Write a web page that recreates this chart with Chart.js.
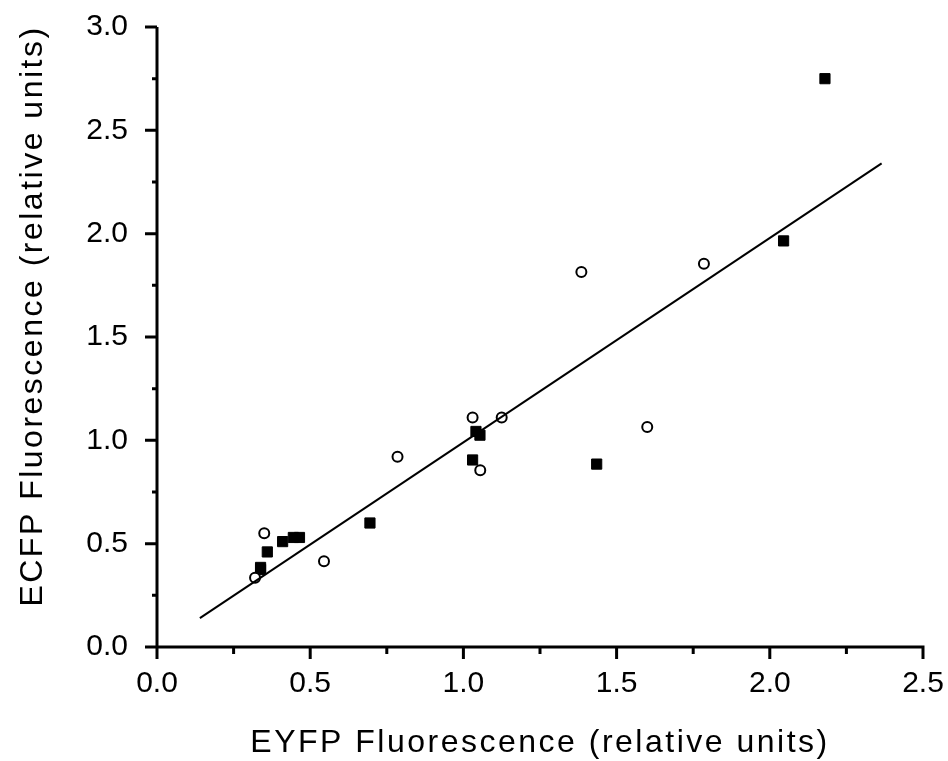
<!DOCTYPE html>
<html>
<head>
<meta charset="utf-8">
<title>ECFP vs EYFP fluorescence</title>
<script src="https://cdn.jsdelivr.net/npm/chart.js@4.4.1/dist/chart.umd.min.js"></script>
<style>
  html, body { margin: 0; padding: 0; background: #fff; }
  canvas { display: block; }
</style>
</head>
<body>
<canvas id="fluoChart" width="948" height="761"></canvas>
<script>
// filled squares
const squaresX = [0.338, 0.338, 0.36, 0.41, 0.445, 0.465, 0.695, 1.03, 1.041, 1.054, 1.435, 2.045, 2.18];
const squaresY = [0.385, 0.375, 0.46, 0.51, 0.53, 0.53, 0.60, 0.905, 1.043, 1.025, 0.885, 1.965, 2.75];

// open circles
const circlesX = [0.32, 0.35, 0.545, 0.785, 1.03, 1.055, 1.125, 1.385, 1.6, 1.785];
const circlesY = [0.335, 0.55, 0.415, 0.92, 1.11, 0.855, 1.11, 1.815, 1.065, 1.855];

// linear fit, drawn between its two end points
const fitX = [0.14, 2.365];
const fitY = [0.14, 2.34];

const xTicks = ['0.0', '0.5', '1.0', '1.5', '2.0', '2.5'];
const yTicks = ['0.0', '0.5', '1.0', '1.5', '2.0', '2.5', '3.0'];

const xTitle = 'EYFP Fluorescence (relative units)';
const yTitle = 'ECFP Fluorescence (relative units)';

const FONT = '"Liberation Sans", Arial, sans-serif';
const toPoints = (xs, ys) => xs.map((x, i) => ({ x: x, y: ys[i] }));

// label only every other tick (0.5 steps), minor ticks stay blank
const tickLabel = (labels) => (value) => {
  const idx = Math.round(value * 2);
  return Math.abs(value * 2 - idx) < 1e-6 ? labels[idx] : '';
};

// axis lines with long major and short minor tick marks
const axesPlugin = {
  id: 'axesPlugin',
  beforeDatasetsDraw(chart) {
    const { ctx, scales: { x, y } } = chart;
    const x0 = x.getPixelForValue(0);
    const y0 = y.getPixelForValue(0);
    ctx.save();
    ctx.strokeStyle = '#000';
    ctx.lineWidth = 3;
    ctx.lineCap = 'butt';
    ctx.beginPath();
    ctx.moveTo(x0, y.getPixelForValue(3));
    ctx.lineTo(x0, y0);
    ctx.moveTo(x0 - 1.5, y0);
    ctx.lineTo(x.getPixelForValue(2.5) + 1.5, y0);
    x.ticks.forEach((t) => {
      const px = x.getPixelForValue(t.value);
      const major = Math.abs(t.value * 2 - Math.round(t.value * 2)) < 1e-6;
      ctx.moveTo(px, y0);
      ctx.lineTo(px, y0 + (major ? 12 : 7));
    });
    y.ticks.forEach((t) => {
      const py = y.getPixelForValue(t.value);
      const major = Math.abs(t.value * 2 - Math.round(t.value * 2)) < 1e-6;
      ctx.moveTo(x0, py);
      ctx.lineTo(x0 - (major ? 12 : 5), py);
    });
    ctx.stroke();
    ctx.restore();
  },
  afterDraw(chart) {
    const { ctx } = chart;
    ctx.save();
    ctx.fillStyle = '#000';
    ctx.font = '32px ' + FONT;
    ctx.letterSpacing = '2.5px';
    ctx.textAlign = 'center';
    ctx.textBaseline = 'alphabetic';
    ctx.fillText(xTitle, 540, 752);
    ctx.translate(42, 316);
    ctx.rotate(-Math.PI / 2);
    ctx.fillText(yTitle, 0, 0);
    ctx.restore();
  }
};

new Chart(document.getElementById('fluoChart'), {
  type: 'scatter',
  data: {
    datasets: [
      {
        label: 'fit',
        data: toPoints(fitX, fitY),
        showLine: true,
        borderColor: '#000',
        borderWidth: 2,
        pointRadius: 0,
        fill: false
      },
      {
        label: 'circles',
        data: toPoints(circlesX, circlesY),
        pointStyle: 'circle',
        pointRadius: 5,
        pointBorderWidth: 2,
        pointBackgroundColor: '#fff',
        pointBorderColor: '#000'
      },
      {
        label: 'squares',
        data: toPoints(squaresX, squaresY),
        pointStyle: 'rect',
        pointRadius: 7.2,
        pointBorderWidth: 1,
        pointBackgroundColor: '#000',
        pointBorderColor: '#000'
      }
    ]
  },
  options: {
    responsive: false,
    animation: false,
    clip: false,
    layout: { padding: { top: 27, right: 25, left: 0, bottom: 0 } },
    plugins: {
      legend: { display: false },
      tooltip: { enabled: false }
    },
    scales: {
      x: {
        type: 'linear',
        min: 0,
        max: 2.5,
        afterFit: (scale) => {
          scale.height = 114;
          scale.paddingLeft = 0;
          scale.paddingRight = 0;
        },
        border: { display: false },
        grid: { drawOnChartArea: false, drawTicks: true, tickLength: 11, color: 'rgba(0,0,0,0)' },
        ticks: {
          stepSize: 0.25,
          autoSkip: false,
          maxRotation: 0,
          padding: 8,
          color: '#000',
          font: { family: FONT, size: 30 },
          callback: tickLabel(xTicks)
        }
      },
      y: {
        type: 'linear',
        min: 0,
        max: 3,
        afterFit: (scale) => {
          scale.width = 157;
          scale.paddingTop = 0;
          scale.paddingBottom = 0;
        },
        border: { display: false },
        grid: { drawOnChartArea: false, drawTicks: true, tickLength: 11, color: 'rgba(0,0,0,0)' },
        ticks: {
          stepSize: 0.25,
          autoSkip: false,
          padding: 18,
          color: '#000',
          font: { family: FONT, size: 30 },
          callback: tickLabel(yTicks)
        }
      }
    }
  },
  plugins: [axesPlugin]
});
</script>
</body>
</html>
